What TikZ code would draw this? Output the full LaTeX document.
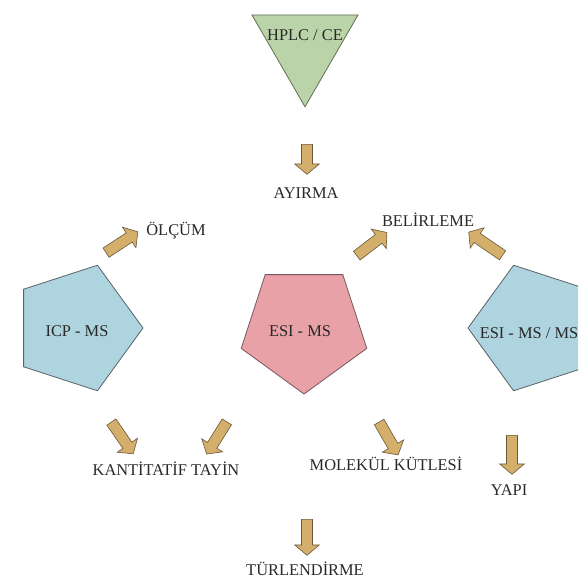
\documentclass[tikz,border=0pt]{standalone}
\usepackage{fontspec}
\setmainfont{Liberation Serif}
\usetikzlibrary{shapes.geometric,shapes.arrows}

\definecolor{sepfill}{RGB}{187,211,168}
\definecolor{sepline}{RGB}{95,110,85}
\definecolor{icpfill}{RGB}{174,212,223}
\definecolor{icpline}{RGB}{88,98,104}
\definecolor{esifill}{RGB}{231,161,167}
\definecolor{esiline}{RGB}{120,88,92}
\definecolor{arrfill}{RGB}{212,175,108}
\definecolor{arrline}{RGB}{105,88,58}
\definecolor{txt}{RGB}{40,40,40}

\tikzset{
  lbl/.style={text=txt, inner sep=0pt, font=\fontsize{16.4}{19}\selectfont},
  pent/.style={regular polygon, regular polygon sides=5, minimum size=132pt,
    inner sep=0pt, outer sep=0pt, line width=0.8pt},
  tri/.style={regular polygon, regular polygon sides=3, shape border rotate=180,
    minimum size=122.4pt, inner sep=0pt, outer sep=0pt, line width=0.8pt,
    fill=sepfill, draw=sepline},
  barrow/.style={single arrow, single arrow head extend=6.8pt,
    single arrow tip angle=100, single arrow head indent=0pt,
    inner xsep=0pt, inner ysep=5.2pt, outer sep=0pt,
    fill=arrfill, draw=arrline, line width=0.6pt}
}

\begin{document}
\begin{tikzpicture}[x=1pt,y=-1pt]
\useasboundingbox (0,0) rectangle (578,588);
\clip (0,0) rectangle (578,588);

% separation step
\node[tri] (sep) at (305,45.6) {};
\node[lbl] (septxt) at (305,35) {HPLC / CE};

% ionisation techniques
\node[pent, shape border rotate=270, fill=icpfill, draw=icpline] (icp) at (77,328) {};
\node[lbl] (icptxt) at (77,331) {ICP - MS};
\node[pent, shape border rotate=180, fill=esifill, draw=esiline] (esi) at (304,328) {};
\node[lbl] (esitxt) at (300,331) {ESI - MS};
\node[pent, shape border rotate=90, fill=icpfill, draw=icpline] (esims) at (534,328) {};
\node[lbl] (esimstxt) at (529,333) {ESI - MS / MS};

% outcome labels
\node[lbl] (ayirma) at (306,193) {AYIRMA};
\node[lbl] (olcum) at (176,231) {ÖLÇÜM};
\node[lbl] (belirleme) at (428,220) {BELİRLEME};
\node[lbl] (kantitatif) at (166,469) {KANTİTATİF TAYİN};
\node[lbl] (molekul) at (386,464) {MOLEKÜL KÜTLESİ};
\node[lbl] (yapi) at (509,490) {YAPI};
\node[lbl] (turlendirme) at (305,569) {TÜRLENDİRME};

% block arrows
\node[barrow, minimum height=30pt, rotate=-90] (a1) at (307,157) {};
\node[barrow, minimum height=38pt, rotate=33.3] (a2) at (120,243.5) {};
\node[barrow, minimum height=38pt, rotate=37.5] (a3) at (370,245.5) {};
\node[barrow, minimum height=41pt, rotate=145.6] (a4) at (487.5,245) {};
\node[barrow, minimum height=38.5pt, rotate=-55.5] (a5) at (121,436) {};
\node[barrow, minimum height=38pt, rotate=-122] (a6) at (218,436) {};
\node[barrow, minimum height=38pt, rotate=-60] (a7) at (387.5,436.5) {};
\node[barrow, minimum height=39pt, rotate=-90] (a8) at (512,452.5) {};
\node[barrow, minimum height=36pt, rotate=-90] (a9) at (307,535) {};
\end{tikzpicture}
\end{document}
